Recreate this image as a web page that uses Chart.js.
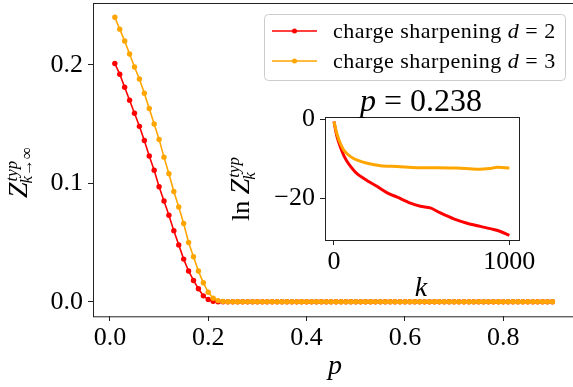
<!DOCTYPE html>
<html lang="en">
<head>
<meta charset="UTF-8">
<title>Typical Z vs p</title>
<script src="https://cdn.jsdelivr.net/npm/chart.js"></script>
<style>
  html, body { margin: 0; padding: 0; background: #fff; }
  #wrap { position: relative; width: 573px; height: 387px; overflow: hidden; }
  #mainChart, #insetChart { position: absolute; left: 0; top: 0; }
</style>
</head>
<body>
<div id="wrap">
  <canvas id="mainChart" width="577" height="387"></canvas>
  <canvas id="insetChart" width="573" height="387"></canvas>
</div>
<script>
// main plot: typical Z for k -> infinity vs p
const pValues = [
  0.01, 0.02, 0.03, 0.04, 0.05, 0.06, 0.07, 0.08, 0.09, 0.10,
  0.11, 0.12, 0.13, 0.14, 0.15, 0.16, 0.17, 0.18, 0.19, 0.20,
  0.21, 0.22, 0.23, 0.24, 0.25, 0.26, 0.27, 0.28, 0.29, 0.30,
  0.31, 0.32, 0.33, 0.34, 0.35, 0.36, 0.37, 0.38, 0.39, 0.40,
  0.41, 0.42, 0.43, 0.44, 0.45, 0.46, 0.47, 0.48, 0.49, 0.50,
  0.51, 0.52, 0.53, 0.54, 0.55, 0.56, 0.57, 0.58, 0.59, 0.60,
  0.61, 0.62, 0.63, 0.64, 0.65, 0.66, 0.67, 0.68, 0.69, 0.70,
  0.71, 0.72, 0.73, 0.74, 0.75, 0.76, 0.77, 0.78, 0.79, 0.80,
  0.81, 0.82, 0.83, 0.84, 0.85, 0.86, 0.87, 0.88, 0.89, 0.90
];
const zTypD2 = [
  0.201, 0.192, 0.181, 0.170, 0.159, 0.148, 0.136, 0.123, 0.111, 0.097,
  0.085, 0.073, 0.060, 0.048, 0.036, 0.026, 0.018, 0.011, 0.005, 0.002,
  0.0005, 0, 0, 0, 0, 0, 0, 0, 0, 0,
  0, 0, 0, 0, 0, 0, 0, 0, 0, 0,
  0, 0, 0, 0, 0, 0, 0, 0, 0, 0,
  0, 0, 0, 0, 0, 0, 0, 0, 0, 0,
  0, 0, 0, 0, 0, 0, 0, 0, 0, 0,
  0, 0, 0, 0, 0, 0, 0, 0, 0, 0,
  0, 0, 0, 0, 0, 0, 0, 0, 0, 0
];
const zTypD3 = [
  0.240, 0.230, 0.220, 0.209, 0.198, 0.188, 0.176, 0.163, 0.150, 0.137,
  0.122, 0.108, 0.093, 0.080, 0.066, 0.050, 0.038, 0.026, 0.016, 0.008,
  0.003, 0.001, 0.0003, 0, 0, 0, 0, 0, 0, 0,
  0, 0, 0, 0, 0, 0, 0, 0, 0, 0,
  0, 0, 0, 0, 0, 0, 0, 0, 0, 0,
  0, 0, 0, 0, 0, 0, 0, 0, 0, 0,
  0, 0, 0, 0, 0, 0, 0, 0, 0, 0,
  0, 0, 0, 0, 0, 0, 0, 0, 0, 0,
  0, 0, 0, 0, 0, 0, 0, 0, 0, 0
];
const xTicks = [0, 0.2, 0.4, 0.6, 0.8];
const yTicks = [0, 0.1, 0.2];
const legendD = ['2', '3'];

// inset: ln Z_k^typ vs k at p = 0.238
const kD2 = [0, 19, 38, 57, 85, 133, 190, 247, 304, 361, 436, 493, 550, 607, 683, 759, 835, 911, 949, 1000];
const lnZD2 = [-0.5, -4.6, -7.1, -9.2, -11.3, -13.8, -15.5, -17.0, -18.6, -19.7, -21.2, -22.0, -22.4, -23.7, -25.2, -26.3, -27.1, -27.9, -28.4, -29.4];
const kD3 = [0, 19, 38, 57, 95, 133, 190, 266, 361, 474, 588, 702, 816, 892, 930, 1000];
const lnZD3 = [-0.5, -3.9, -6.2, -7.8, -9.4, -10.3, -11.1, -11.7, -11.9, -12.2, -12.2, -12.3, -12.6, -12.4, -12.1, -12.3];
const insetXTicks = [0, 1000];
const insetYTicks = [0, -20];

const RED = '#ff0000';
const ORANGE = '#ffa500';
const INK = '#222222';
const SERIF = "'Liberation Serif', 'DejaVu Serif', serif";

function pts(xs, ys) {
  return xs.map((x, i) => ({ x: x, y: ys[i] }));
}

function fixTicks(values) {
  return axis => { axis.ticks = values.map(v => ({ value: v })); };
}

// fixed axis size, and no extra room for overflowing end labels
function fixSize(w, h) {
  return s => {
    if (w) s.width = w;
    if (h) s.height = h;
    s.paddingTop = 0; s.paddingBottom = 0;
    s.paddingLeft = 0; s.paddingRight = 0;
  };
}

const mainDecor = {
  id: 'mainDecor',
  afterDraw(chart) {
    const ctx = chart.ctx;
    const a = chart.chartArea;
    ctx.save();
    ctx.strokeStyle = INK;
    ctx.lineWidth = 1;
    ctx.strokeRect(Math.round(a.left) + 0.5, Math.round(a.top) + 0.5, a.right - a.left, a.bottom - a.top);

    ctx.fillStyle = '#000';
    ctx.textBaseline = 'alphabetic';
    // x label
    ctx.font = 'italic 28px ' + SERIF;
    ctx.textAlign = 'center';
    ctx.fillText('p', 335, 374);

    // y label, rotated
    ctx.textAlign = 'left';
    ctx.save();
    ctx.translate(27, 198);
    ctx.rotate(-Math.PI / 2);
    ctx.font = 'italic 28px ' + SERIF;
    ctx.fillText('Z', 0, 0);
    const zw = ctx.measureText('Z').width;
    ctx.font = 'italic 17px ' + SERIF;
    ctx.fillText('typ', zw + 1, -10);
    ctx.fillText('k', zw - 1, 5);
    const kw = ctx.measureText('k').width;
    ctx.font = '17px ' + SERIF;
    ctx.fillText('\u2192\u221e', zw - 1 + kw, 5);
    ctx.restore();

    // legend
    ctx.beginPath();
    ctx.roundRect(264.5, 14.5, 301, 66, 4);
    ctx.fillStyle = 'rgba(255,255,255,0.8)';
    ctx.fill();
    ctx.strokeStyle = '#cccccc';
    ctx.stroke();
    chart.data.datasets.forEach((ds, i) => {
      const y = 31 + i * 30;
      ctx.strokeStyle = ds.borderColor;
      ctx.lineWidth = 1.5;
      ctx.beginPath();
      ctx.moveTo(272, y);
      ctx.lineTo(317, y);
      ctx.stroke();
      ctx.fillStyle = ds.borderColor;
      ctx.beginPath();
      ctx.arc(294.5, y, 2.5, 0, Math.PI * 2);
      ctx.fill();
      ctx.fillStyle = '#000';
      ctx.letterSpacing = '0.5px';
      let x = 333;
      ctx.font = '22px ' + SERIF;
      ctx.fillText('charge sharpening ', x, y + 7);
      x += ctx.measureText('charge sharpening ').width;
      ctx.font = 'italic 22px ' + SERIF;
      ctx.fillText('d', x, y + 7);
      x += ctx.measureText('d').width;
      ctx.font = '22px ' + SERIF;
      ctx.fillText(' = ' + legendD[i], x, y + 7);
      ctx.letterSpacing = '0px';
    });
    ctx.restore();
  }
};

const insetDecor = {
  id: 'insetDecor',
  beforeDraw(chart) {
    const ctx = chart.ctx;
    const a = chart.chartArea;
    ctx.save();
    ctx.fillStyle = '#fff';
    ctx.fillRect(a.left, a.top, a.right - a.left, a.bottom - a.top);
    ctx.restore();
  },
  afterDraw(chart) {
    const ctx = chart.ctx;
    const a = chart.chartArea;
    ctx.save();
    ctx.strokeStyle = INK;
    ctx.lineWidth = 1;
    ctx.strokeRect(Math.round(a.left) + 0.5, Math.round(a.top) + 0.5, a.right - a.left, a.bottom - a.top);
    ctx.fillStyle = '#000';
    ctx.textBaseline = 'alphabetic';
    ctx.textAlign = 'left';

    // title p = 0.238
    ctx.font = 'italic 32px ' + SERIF;
    const pw = ctx.measureText('p').width;
    ctx.font = '32px ' + SERIF;
    const rest = ' = 0.238';
    const rw = ctx.measureText(rest).width;
    const x0 = 421 - (pw + rw) / 2;
    ctx.font = 'italic 32px ' + SERIF;
    ctx.fillText('p', x0, 111);
    ctx.font = '32px ' + SERIF;
    ctx.fillText(rest, x0 + pw, 111);

    // x label
    ctx.font = 'italic 28px ' + SERIF;
    ctx.textAlign = 'center';
    ctx.fillText('k', 421, 296);

    // y label
    ctx.textAlign = 'left';
    ctx.save();
    ctx.translate(249, 221);
    ctx.rotate(-Math.PI / 2);
    ctx.font = '26px ' + SERIF;
    ctx.fillText('ln ', 0, 0);
    const lw = ctx.measureText('ln ').width;
    ctx.font = 'italic 28px ' + SERIF;
    ctx.fillText('Z', lw, 0);
    const zw = ctx.measureText('Z').width;
    ctx.font = 'italic 17px ' + SERIF;
    ctx.fillText('typ', lw + zw + 1, -10);
    ctx.fillText('k', lw + zw - 1, 6);
    ctx.restore();
    ctx.restore();
  }
};

const tickFont = { family: SERIF, size: 26 };

new Chart(document.getElementById('mainChart'), {
  type: 'line',
  data: {
    datasets: [
      {
        label: 'charge sharpening d = 2',
        data: pts(pValues, zTypD2),
        borderColor: RED,
        backgroundColor: RED,
        order: 1
      },
      {
        label: 'charge sharpening d = 3',
        data: pts(pValues, zTypD3),
        borderColor: ORANGE,
        backgroundColor: ORANGE,
        order: 0
      }
    ]
  },
  options: {
    responsive: false,
    animation: false,
    devicePixelRatio: 1,
    layout: { padding: { left: 0, right: 0, top: 2, bottom: 0 } },
    elements: {
      line: { borderWidth: 1.6, tension: 0 },
      point: { radius: 2.7, borderWidth: 0, hoverRadius: 2.7 }
    },
    plugins: { legend: { display: false }, tooltip: { enabled: false } },
    scales: {
      x: {
        type: 'linear',
        min: -0.0344,
        max: 0.9445,
        afterBuildTicks: fixTicks(xTicks),
        afterFit: fixSize(0, 71),
        grid: { display: true, drawOnChartArea: false, drawTicks: true, tickLength: 5, color: INK },
        border: { display: false },
        ticks: { font: tickFont, color: '#000', padding: 2, maxRotation: 0, callback: v => v.toFixed(1) }
      },
      y: {
        min: -0.012,
        max: 0.2523,
        afterBuildTicks: fixTicks(yTicks),
        afterFit: fixSize(93, 0),
        grid: { display: true, drawOnChartArea: false, drawTicks: true, tickLength: 5, color: INK },
        border: { display: false },
        ticks: { font: tickFont, color: '#000', padding: 5, callback: v => v.toFixed(1) }
      }
    }
  },
  plugins: [mainDecor]
});

new Chart(document.getElementById('insetChart'), {
  type: 'line',
  data: {
    datasets: [
      {
        label: 'd = 2',
        data: pts(kD2, lnZD2),
        borderColor: RED,
        order: 1
      },
      {
        label: 'd = 3',
        data: pts(kD3, lnZD3),
        borderColor: ORANGE,
        order: 0
      }
    ]
  },
  options: {
    responsive: false,
    animation: false,
    devicePixelRatio: 1,
    layout: { padding: { left: 265, right: 54, top: 117, bottom: 107 } },
    elements: {
      line: { borderWidth: 3, tension: 0.3 },
      point: { radius: 0, hoverRadius: 0 }
    },
    plugins: { legend: { display: false }, tooltip: { enabled: false } },
    scales: {
      x: {
        type: 'linear',
        min: -51,
        max: 1055,
        afterBuildTicks: fixTicks(insetXTicks),
        afterFit: fixSize(0, 40),
        grid: { display: true, drawOnChartArea: false, drawTicks: true, tickLength: 5, color: INK },
        border: { display: false },
        ticks: { font: tickFont, color: '#000', padding: 2, maxRotation: 0, callback: v => String(v) }
      },
      y: {
        min: -30.56,
        max: 0.66,
        afterBuildTicks: fixTicks(insetYTicks),
        afterFit: fixSize(60, 0),
        grid: { display: true, drawOnChartArea: false, drawTicks: true, tickLength: 5, color: INK },
        border: { display: false },
        ticks: { font: tickFont, color: '#000', padding: 5, callback: v => v === 0 ? '0' : '\u2212' + Math.abs(v) }
      }
    }
  },
  plugins: [insetDecor]
});
</script>
</body>
</html>
